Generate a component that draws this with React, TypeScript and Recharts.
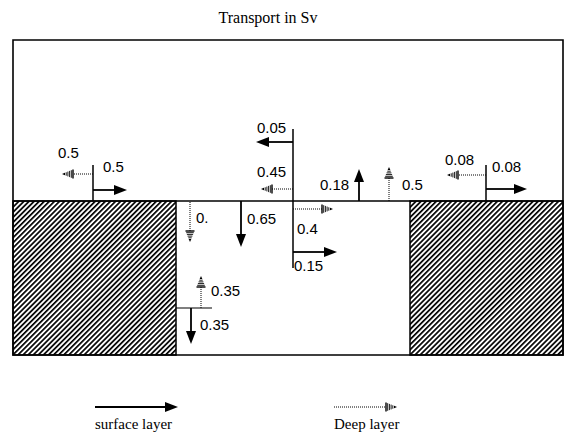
import {
  ComposedChart,
  ReferenceArea,
  ReferenceLine,
  Scatter,
  XAxis,
  YAxis,
} from 'recharts';

// Diagram units: the section is drawn on a 566 x 432 grid (y grows downward).
type Pt = [number, number];
type Flow = { value: string; from: Pt; to: Pt; label: Pt };

const title = 'Transport in Sv';

const boxX: Pt = [13, 563];
const boxY: Pt = [40, 355];
const shelfY = 201;
const leftShelfX: Pt = [13, 176];
const rightShelfX: Pt = [410, 563];
const stepY = 308;
const stepX: Pt = [176, 212];

const stationLines: { x: number; y: Pt }[] = [
  { x: 93, y: [165, 201] },
  { x: 293, y: [129, 268] },
  { x: 486, y: [165, 201] },
];

const surfaceFlows: Flow[] = [
  { value: '0.5', from: [93, 190], to: [127, 190], label: [103, 166] },
  { value: '0.05', from: [293, 142], to: [256, 142], label: [257, 127] },
  { value: '0.15', from: [293, 252], to: [337, 252], label: [294, 265] },
  { value: '0.18', from: [359, 201], to: [359, 169], label: [320, 184] },
  { value: '0.65', from: [241, 201], to: [241, 247], label: [247, 218] },
  { value: '0.35', from: [191, 308], to: [191, 344], label: [200, 324] },
  { value: '0.08', from: [486, 189], to: [527, 189], label: [492, 166] },
];

const deepFlows: Flow[] = [
  { value: '0.5', from: [93, 174], to: [62, 174], label: [58, 152] },
  { value: '0.45', from: [293, 189], to: [261, 189], label: [257, 171] },
  { value: '0.4', from: [293, 209], to: [333, 209], label: [297, 228] },
  { value: '0.5', from: [389, 201], to: [389, 167], label: [402, 184] },
  { value: '0.', from: [190, 202], to: [190, 242], label: [196, 217] },
  { value: '0.35', from: [201, 308], to: [201, 276], label: [211, 290] },
  { value: '0.08', from: [486, 175], to: [447, 175], label: [445, 159] },
];

const legendItems = [
  { kind: 'surface', text: 'surface layer', from: [95, 407] as Pt, to: [178, 407] as Pt, label: [95, 424] as Pt },
  { kind: 'deep', text: 'Deep layer', from: [334, 407] as Pt, to: [397, 407] as Pt, label: [334, 424] as Pt },
];

const labelPoints = [...surfaceFlows, ...deepFlows].map(f => ({
  x: f.label[0],
  y: f.label[1],
  text: f.value,
}));
const serifPoints = [
  { x: 268, y: 17, text: title, anchor: 'middle', size: 16 },
  ...legendItems.map(l => ({ x: l.label[0], y: l.label[1], text: l.text, anchor: 'start', size: 15 })),
];

function arrowShape(kind: string) {
  return (p: any) => {
    const { x1, y1, x2, y2 } = p;
    const dx = x2 - x1;
    const dy = y2 - y1;
    const len = Math.hypot(dx, dy) || 1;
    const ux = dx / len;
    const uy = dy / len;
    const nx = -uy;
    const ny = ux;
    if (kind === 'surface') {
      const hl = 13;
      const hw = 5;
      const bx = x2 - ux * hl;
      const by = y2 - uy * hl;
      return (
        <g>
          <line x1={x1} y1={y1} x2={bx} y2={by} stroke="#000" strokeWidth={1.8} />
          <polygon
            points={`${x2},${y2} ${bx + nx * hw},${by + ny * hw} ${bx - nx * hw},${by - ny * hw}`}
            fill="#000"
          />
        </g>
      );
    }
    const hl = 11;
    const hw = 4.5;
    const bx = x2 - ux * hl;
    const by = y2 - uy * hl;
    const stripes = [];
    for (let t = 0; t < hl - 1; t += 1.7) {
      const w = hw * (1 - t / hl);
      const cx = bx + ux * t;
      const cy = by + uy * t;
      stripes.push(
        <line
          key={t}
          x1={cx + nx * w}
          y1={cy + ny * w}
          x2={cx - nx * w}
          y2={cy - ny * w}
          stroke="#000"
          strokeWidth={t === 0 ? 1.4 : 0.9}
        />,
      );
    }
    return (
      <g>
        <line x1={x1} y1={y1} x2={bx} y2={by} stroke="#000" strokeWidth={1} strokeDasharray="1 1" />
        {stripes}
        <polygon
          points={`${x2},${y2} ${x2 - ux * 3 + nx * 1.3},${y2 - uy * 3 + ny * 1.3} ${x2 - ux * 3 - nx * 1.3},${y2 - uy * 3 - ny * 1.3}`}
          fill="#000"
        />
      </g>
    );
  };
}

function hatchRect(p: any) {
  return (
    <g>
      <defs>
        <pattern
          id="shelfHatch"
          patternUnits="userSpaceOnUse"
          width={3.6}
          height={3.6}
          patternTransform="rotate(45)"
        >
          <rect x={0} y={0} width={1.7} height={3.6} fill="#000" />
        </pattern>
      </defs>
      <rect x={p.x} y={p.y} width={p.width} height={p.height} fill="url(#shelfHatch)" stroke="#000" strokeWidth={1.5} />
    </g>
  );
}

function sansLabel(p: any) {
  return (
    <text
      x={p.cx}
      y={p.cy}
      dominantBaseline="central"
      fontFamily="'Liberation Sans', Arial, sans-serif"
      fontSize={15}
      fill="#000"
    >
      {p.payload.text}
    </text>
  );
}

function serifLabel(p: any) {
  return (
    <text
      x={p.cx}
      y={p.cy}
      dominantBaseline="central"
      textAnchor={p.payload.anchor}
      fontFamily="'Liberation Serif', 'Times New Roman', serif"
      fontSize={p.payload.size}
      fill="#000"
    >
      {p.payload.text}
    </text>
  );
}

const seg = (a: Pt, b: Pt) => [
  { x: a[0], y: a[1] },
  { x: b[0], y: b[1] },
];

export default function App() {
  return (
    <div style={{ position: 'absolute', left: 0, top: 0, background: '#fff' }}>
      <ComposedChart width={566} height={432} margin={{ top: 0, right: 0, bottom: 0, left: 0 }}>
        <XAxis type="number" dataKey="x" domain={[0, 566]} hide allowDataOverflow />
        <YAxis type="number" dataKey="y" domain={[0, 432]} hide reversed allowDataOverflow />

        <ReferenceArea
          x1={boxX[0]}
          x2={boxX[1]}
          y1={boxY[0]}
          y2={boxY[1]}
          fill="none"
          fillOpacity={0}
          stroke="#000"
          strokeWidth={1.6}
          ifOverflow="visible"
        />
        <ReferenceArea
          x1={leftShelfX[0]}
          x2={leftShelfX[1]}
          y1={shelfY}
          y2={boxY[1]}
          shape={hatchRect}
          ifOverflow="visible"
        />
        <ReferenceArea
          x1={rightShelfX[0]}
          x2={rightShelfX[1]}
          y1={shelfY}
          y2={boxY[1]}
          shape={hatchRect}
          ifOverflow="visible"
        />
        <ReferenceLine
          segment={seg([boxX[0], shelfY], [boxX[1], shelfY])}
          stroke="#000"
          strokeWidth={1.5}
          ifOverflow="visible"
        />
        <ReferenceLine
          segment={seg([stepX[0], stepY], [stepX[1], stepY])}
          stroke="#000"
          strokeWidth={1.2}
          ifOverflow="visible"
        />
        {stationLines.map((s, i) => (
          <ReferenceLine
            key={`st${i}`}
            segment={seg([s.x, s.y[0]], [s.x, s.y[1]])}
            stroke="#000"
            strokeWidth={1.5}
            ifOverflow="visible"
          />
        ))}
        {surfaceFlows.map((f, i) => (
          <ReferenceLine
            key={`sf${i}`}
            segment={seg(f.from, f.to)}
            shape={arrowShape('surface')}
            ifOverflow="visible"
          />
        ))}
        {deepFlows.map((f, i) => (
          <ReferenceLine
            key={`df${i}`}
            segment={seg(f.from, f.to)}
            shape={arrowShape('deep')}
            ifOverflow="visible"
          />
        ))}
        {legendItems.map((l, i) => (
          <ReferenceLine
            key={`lg${i}`}
            segment={seg(l.from, l.to)}
            shape={arrowShape(l.kind)}
            ifOverflow="visible"
          />
        ))}

        <Scatter data={labelPoints} shape={sansLabel} isAnimationActive={false} />
        <Scatter data={serifPoints} shape={serifLabel} isAnimationActive={false} />
      </ComposedChart>
    </div>
  );
}
